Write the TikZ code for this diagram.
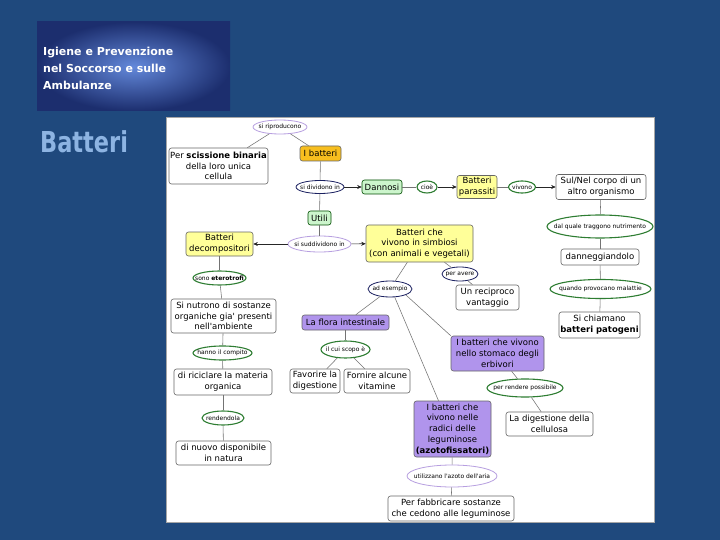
\documentclass[tikz,border=0pt]{standalone}
\usepackage{fontspec}
\usetikzlibrary{shapes.geometric,arrows.meta}
\newfontfamily\mapf{DejaVu Sans}
\definecolor{bgblue}{HTML}{1F497D}
\definecolor{tin}{HTML}{6388DA}
\definecolor{tout}{HTML}{1C2E6E}
\definecolor{batc}{HTML}{8DB4E2}
\definecolor{ylw}{HTML}{FFFF99}
\definecolor{orng}{HTML}{F7BE1E}
\definecolor{grn}{HTML}{CCF5CC}
\definecolor{prp}{HTML}{B094EC}
\definecolor{elp}{HTML}{B79FE0}
\definecolor{eln}{HTML}{1A2060}
\definecolor{elg}{HTML}{2E7D32}
\newcommand\elltxt[1]{\makebox[0pt]{#1}}
\tikzset{
  box/.style={draw=black!60, line width=0.6pt, rounded corners=2.5pt, align=center, inner sep=1pt,
              font={\mapf\fontsize{8.5}{10.8}\selectfont}},
  wb/.style={box, fill=white},
  yb/.style={box, fill=ylw},
  ob/.style={box, fill=orng},
  gb/.style={box, fill=grn, draw=black!50!green!60!black},
  pb/.style={box, fill=prp},
  lk/.style={ellipse, inner sep=0pt, fill=white, line width=0.8pt, font={\mapf\fontsize{6}{7}\selectfont}},
  lkp/.style={lk, draw=elp},
  lkn/.style={lk, draw=eln},
  lkg/.style={lk, draw=elg, line width=1.1pt},
  cn/.style={draw=black!55, line width=0.55pt},
  ar/.style={draw=black!85, line width=0.6pt, -{Stealth[length=4.5pt,width=4pt]}}
}
\begin{document}
\begin{tikzpicture}[x=1pt,y=-1pt]
\useasboundingbox (0,0) rectangle (720,540);
\fill[bgblue] (0,0) rectangle (720,540);
% title block
\shade[inner color=tin, outer color=tout] (37,22) rectangle (230,111);
\node[anchor=north west, inner sep=0pt, align=left, text=white,
      font={\mapf\bfseries\fontsize{11}{17}\selectfont}] (title) at (43,46.5)
      {Igiene e Prevenzione\\nel Soccorso e sulle\\Ambulanze};
\node[anchor=base west, inner sep=0pt, text=batc,
      font={\mapf\bfseries\fontsize{28.8}{30}\selectfont}] (bat) at (40,153)
      {\scalebox{0.78}[1]{Batteri}};
% map panel
\fill[white, draw=black!35] (166,117) rectangle (654,522);

% nodes
\node[lkp, minimum width=54pt, minimum height=14pt] (ripr) at (280,127) {\elltxt{si riproducono}};
\node[wb, minimum width=99pt, minimum height=36pt] (sciss) at (218.5,166) {Per \textbf{scissione binaria}\\della loro unica\\cellula};
\node[ob, minimum width=41pt, minimum height=15pt] (ib) at (320.5,153.5) {I batteri};
\node[lkn, minimum width=48pt, minimum height=13pt] (divid) at (320,187) {\elltxt{si dividono in}};
\node[gb, minimum width=40pt, minimum height=14pt] (dann) at (382,187) {Dannosi};
\node[lkg, minimum width=20pt, minimum height=12pt] (cioe) at (427,187) {\elltxt{cioè}};
\node[yb, minimum width=40pt, minimum height=23pt] (paras) at (477,187) {Batteri\\parassiti};
\node[lkg, minimum width=27pt, minimum height=12pt] (vivono) at (522,187) {\elltxt{vivono}};
\node[wb, minimum width=90pt, minimum height=25pt] (sul) at (601,187) {Sul/Nel corpo di un\\altro organismo};
\node[lkg, minimum width=106pt, minimum height=23pt] (dalq) at (600,226.5) {\elltxt{dal quale traggono nutrimento}};
\node[wb, minimum width=78pt, minimum height=16pt] (danneg) at (600,257) {danneggiandolo};
\node[lkg, minimum width=101pt, minimum height=19pt] (quando) at (600.5,289) {\elltxt{quando provocano malattie}};
\node[wb, minimum width=81pt, minimum height=26pt] (chiam) at (599.5,325) {Si chiamano\\\textbf{batteri patogeni}};
\node[gb, minimum width=23pt, minimum height=14pt] (utili) at (319.5,218) {Utili};
\node[lkp, minimum width=63pt, minimum height=16pt] (sudd) at (319.5,244) {\elltxt{si suddividono in}};
\node[yb, minimum width=107pt, minimum height=37pt] (simb) at (419.5,243.5) {Batteri che\\vivono in simbiosi\\(con animali e vegetali)};
\node[yb, minimum width=67pt, minimum height=24pt] (decomp) at (219.5,244) {Batteri\\decompositori};
\node[lkg, minimum width=53pt, minimum height=14pt] (etero) at (219.5,278) {\elltxt{sono \textbf{eterotrofi}}};
\node[wb, minimum width=105pt, minimum height=34pt] (nutr) at (223.5,316) {Si nutrono di sostanze\\organiche gia' presenti\\nell'ambiente};
\node[lkg, minimum width=59pt, minimum height=14pt] (compito) at (222.5,353) {\elltxt{hanno il compito}};
\node[wb, minimum width=98pt, minimum height=26pt] (ricic) at (223,382) {di riciclare la materia\\organica};
\node[lkg, minimum width=42pt, minimum height=14pt] (rend) at (223,418) {\elltxt{rendendola}};
\node[wb, minimum width=95pt, minimum height=24pt] (nuovo) at (223.5,453) {di nuovo disponibile\\in natura};
\node[lkn, minimum width=44pt, minimum height=16pt] (esem) at (390,289) {\elltxt{ad esempio}};
\node[lkn, minimum width=36pt, minimum height=14pt] (avere) at (460,274) {\elltxt{per avere}};
\node[wb, minimum width=63pt, minimum height=25pt] (recip) at (487.5,297.5) {Un reciproco\\vantaggio};
\node[pb, minimum width=87pt, minimum height=15pt] (flora) at (345.5,322.5) {La flora intestinale};
\node[lkg, minimum width=49pt, minimum height=17pt] (scopo) at (345.5,349.5) {\elltxt{il cui scopo è}};
\node[wb, minimum width=50pt, minimum height=24pt] (favor) at (315,381) {Favorire la\\digestione};
\node[wb, minimum width=66pt, minimum height=24pt] (fornire) at (377,381) {Fornire alcune\\vitamine};
\node[pb, minimum width=93pt, minimum height=35pt] (stom) at (497.5,353.5) {I batteri che vivono\\nello stomaco degli\\erbivori};
\node[lkg, minimum width=76pt, minimum height=18pt] (render) at (525,388) {\elltxt{per rendere possibile}};
\node[wb, minimum width=87pt, minimum height=24pt] (cellul) at (549.5,424) {La digestione della\\cellulosa};
\node[pb, minimum width=77pt, minimum height=56pt] (radici) at (452.5,429) {I batteri che\\vivono nelle\\radici delle\\leguminose\\\textbf{(azotofissatori)}};
\node[lkp, minimum width=90pt, minimum height=22pt] (azoto) at (452,476) {\elltxt{utilizzano l'azoto dell'aria}};
\node[wb, minimum width=126pt, minimum height=25pt] (fabbr) at (451,508.5) {Per fabbricare sostanze\\che cedono alle leguminose};

% connectors
\draw[cn] (ib) -- (ripr);
\draw[cn] (ripr) -- (sciss);
\draw[cn] (ib) -- (divid);
\draw[cn] (divid) -- (utili);
\draw[ar] (divid) -- (dann);
\draw[cn] (dann) -- (cioe);
\draw[ar] (cioe) -- (paras);
\draw[cn] (paras) -- (vivono);
\draw[ar] (vivono) -- (sul);
\draw[cn] (sul) -- (dalq);
\draw[cn] (dalq) -- (danneg);
\draw[cn] (danneg) -- (quando);
\draw[cn] (quando) -- (chiam);
\draw[cn] (utili) -- (sudd);
\draw[ar] (sudd) -- (simb);
\draw[ar] (sudd) -- (decomp);
\draw[cn] (decomp) -- (etero);
\draw[cn] (etero) -- (nutr);
\draw[cn] (nutr) -- (compito);
\draw[cn] (compito) -- (ricic);
\draw[cn] (ricic) -- (rend);
\draw[cn] (rend) -- (nuovo);
\draw[cn] (simb) -- (esem);
\draw[cn] (simb) -- (avere);
\draw[cn] (avere) -- (recip);
\draw[cn] (esem) -- (flora);
\draw[cn] (esem.south east) -- (stom.north west);
\draw[cn] (esem.-60) -- ([xshift=-14pt]radici.north);
\draw[cn] (flora) -- (scopo);
\draw[cn] (scopo) -- (favor);
\draw[cn] (scopo) -- (fornire);
\draw[cn] (stom) -- (render);
\draw[cn] (render) -- (cellul);
\draw[cn] (radici) -- (azoto);
\draw[cn] (azoto) -- (fabbr);
\end{tikzpicture}
\end{document}
